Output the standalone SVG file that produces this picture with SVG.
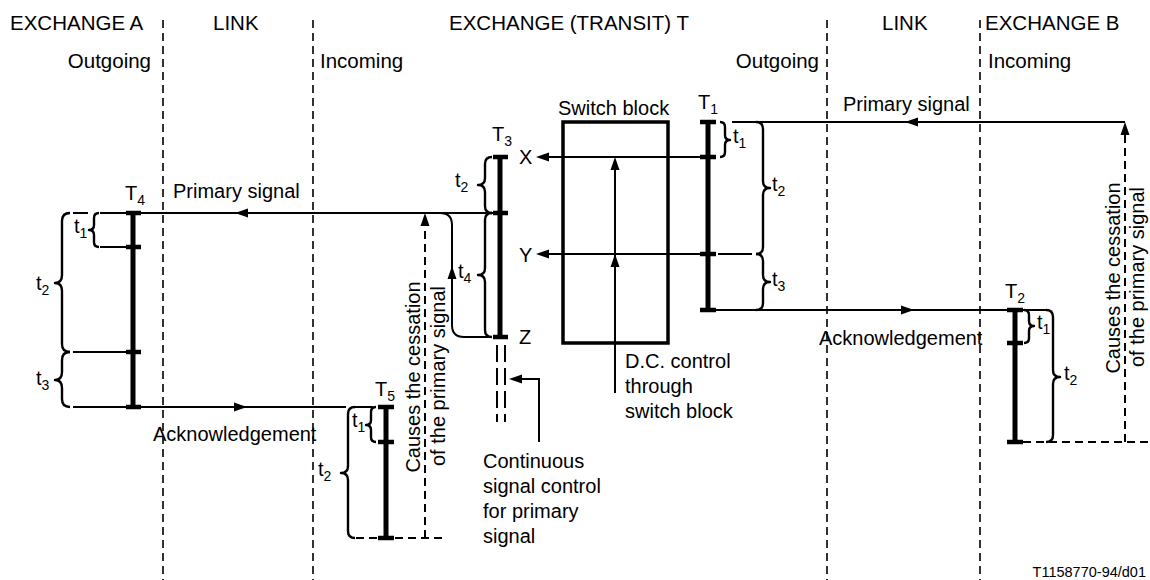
<svg xmlns="http://www.w3.org/2000/svg" xmlns:xlink="http://www.w3.org/1999/xlink" width="1150" height="580" viewBox="0 0 1150 580">
<style>
.t{font-family:"Liberation Sans",Arial,Helvetica,sans-serif;font-size:20px;fill:#000}
.h{font-size:20.5px}
.s{font-size:14px}
.ft{font-size:14.5px}
.bar{stroke:#000;stroke-width:5;fill:none}
.tk{stroke:#000;stroke-width:4.5;fill:none}
.ln{stroke:#000;stroke-width:2;fill:none}
.dl{stroke:#000;stroke-width:2;fill:none;stroke-dasharray:8 5}
.sep{stroke:#000;stroke-width:1.6;fill:none;stroke-dasharray:8 5}
.br{stroke:#000;stroke-width:2.4;fill:none;stroke-linejoin:round}
.box{stroke:#000;stroke-width:3.5;fill:none}
</style>
<defs>
<path id="ah" d="M0,0 L-13,-4.5 L-13,4.5 Z" fill="#000"/>
</defs>
<rect width="1150" height="580" fill="#fff"/>

<g id="separators">
<line class="sep" x1="163" y1="20" x2="163" y2="580"/>
<line class="sep" x1="313" y1="20" x2="313" y2="580"/>
<line class="sep" x1="827" y1="20" x2="827" y2="580"/>
<line class="sep" x1="980" y1="20" x2="980" y2="580"/>
</g>

<g id="headers" class="t h">
<text x="10" y="30">EXCHANGE A</text>
<text x="213" y="30">LINK</text>
<text x="449" y="30">EXCHANGE (TRANSIT) T</text>
<text x="882" y="30">LINK</text>
<text x="985" y="30">EXCHANGE B</text>
<text x="151" y="68" text-anchor="end">Outgoing</text>
<text x="320" y="68">Incoming</text>
<text x="819" y="68" text-anchor="end">Outgoing</text>
<text x="988" y="68">Incoming</text>
</g>

<g id="connectors">
<line class="ln" x1="500" y1="213" x2="140" y2="213"/>
<use xlink:href="#ah" transform="translate(235,213) rotate(180)"/>
<line class="ln" x1="73" y1="213" x2="88" y2="213"/>
<line class="ln" x1="100" y1="213" x2="127" y2="213"/>
<line class="ln" x1="100" y1="247" x2="127" y2="247"/>
<line class="ln" x1="73" y1="352" x2="127" y2="352"/>
<line class="ln" x1="73" y1="407" x2="346" y2="407"/>
<use xlink:href="#ah" transform="translate(247,407)"/>
<line class="ln" x1="353" y1="407" x2="373" y2="407"/>
<line class="dl" x1="356" y1="538" x2="445" y2="538"/>
<line class="dl" x1="425" y1="538" x2="425" y2="222"/>
<use xlink:href="#ah" transform="translate(425,213) rotate(-90)"/>
<path class="ln" d="M440,213 Q452,213 452,225 V325 Q452,337 464,337 H492"/>
<use xlink:href="#ah" transform="translate(452,266) rotate(-90)"/>
<line class="ln" x1="700" y1="157" x2="545" y2="157"/>
<use xlink:href="#ah" transform="translate(536,157) rotate(180)"/>
<line class="ln" x1="700" y1="254" x2="545" y2="254"/>
<use xlink:href="#ah" transform="translate(536,254) rotate(180)"/>
<line class="ln" x1="718" y1="254" x2="752" y2="254"/>
<line class="ln" x1="615" y1="393" x2="615" y2="165"/>
<use xlink:href="#ah" transform="translate(615,157) rotate(-90)"/>
<use xlink:href="#ah" transform="translate(615,254) rotate(-90)"/>
<line class="dl" x1="497" y1="345" x2="497" y2="422" style="stroke-dasharray:17 6"/>
<line class="dl" x1="505" y1="345" x2="505" y2="422" style="stroke-dasharray:17 6"/>
<polyline class="ln" points="539,442 539,379 518,379"/>
<use xlink:href="#ah" transform="translate(509,379) rotate(180)"/>
<line class="ln" x1="1125" y1="122" x2="732" y2="122"/>
<use xlink:href="#ah" transform="translate(905,122) rotate(180)"/>
<line class="ln" x1="716" y1="310" x2="1007" y2="310"/>
<use xlink:href="#ah" transform="translate(914,310)"/>
<line class="ln" x1="1023" y1="310" x2="1046" y2="310"/>
<line class="dl" x1="1023" y1="442" x2="1150" y2="442"/>
<line class="dl" x1="1125" y1="442" x2="1125" y2="132"/>
<use xlink:href="#ah" transform="translate(1125,122) rotate(-90)"/>
</g>

<g id="labels" class="t">
<text x="173" y="198">Primary signal</text>
<text x="153" y="441">Acknowledgement</text>
<text x="843" y="111">Primary signal</text>
<text x="819" y="345">Acknowledgement</text>
<text transform="translate(420,377) rotate(-90)" text-anchor="middle">Causes the cessation</text>
<text transform="translate(445,376) rotate(-90)" text-anchor="middle">of the primary signal</text>
<text transform="translate(1120,278) rotate(-90)" text-anchor="middle">Causes the cessation</text>
<text transform="translate(1144,277) rotate(-90)" text-anchor="middle">of the primary signal</text>
<text x="483" y="468">Continuous</text>
<text x="483" y="493">signal control</text>
<text x="483" y="518">for primary</text>
<text x="483" y="543">signal</text>
<text x="625" y="368">D.C. control</text>
<text x="625" y="393">through</text>
<text x="625" y="418">switch block</text>
<text x="1146" y="577" text-anchor="end" class="t ft">T1158770-94/d01</text>
</g>

<g id="switch-block">
<rect class="box" x="563" y="122" width="105" height="221"/>
<text class="t" x="558" y="115">Switch block</text>
<text class="t" x="519" y="164">X</text>
<text class="t" x="519" y="262">Y</text>
<text class="t" x="519" y="344">Z</text>
</g>

<g id="T4">
<line class="bar" x1="133" y1="213" x2="133" y2="407"/>
<line class="tk" x1="126" y1="213" x2="141" y2="213"/>
<line class="tk" x1="126" y1="247" x2="141" y2="247"/>
<line class="tk" x1="126" y1="352" x2="141" y2="352"/>
<line class="tk" x1="126" y1="407" x2="141" y2="407"/>
<text class="t" x="125" y="200">T<tspan class="s" dy="5">4</tspan></text>
<path class="br" d="M70,213 Q62,213 62,221 L62,275 Q62,283 55,283 Q62,283 62,291 L62,344 Q62,352 70,352"/>
<path class="br" d="M70,352 Q62,352 62,360 L62,372 Q62,380 55,380 Q62,380 62,388 L62,399 Q62,407 70,407"/>
<path class="br" d="M99,213 Q94,213 94,218 L94,225 Q94,230 89,230 Q94,230 94,235 L94,242 Q94,247 99,247"/>
<text class="t" x="36" y="290">t<tspan class="s" dy="5">2</tspan></text>
<text class="t" x="36" y="385">t<tspan class="s" dy="5">3</tspan></text>
<text class="t" x="74" y="233">t<tspan class="s" dy="5">1</tspan></text>
</g>

<g id="T3">
<line class="bar" x1="500" y1="157" x2="500" y2="337"/>
<line class="tk" x1="493" y1="157" x2="508" y2="157"/>
<line class="tk" x1="493" y1="213" x2="508" y2="213"/>
<line class="tk" x1="493" y1="337" x2="508" y2="337"/>
<text class="t" x="492" y="141">T<tspan class="s" dy="5">3</tspan></text>
<path class="br" d="M492,157 Q485,157 485,164 L485,178 Q485,185 478,185 Q485,185 485,192 L485,206 Q485,213 492,213"/>
<path class="br" d="M492,213 Q485,213 485,220 L485,268 Q485,275 478,275 Q485,275 485,282 L485,330 Q485,337 492,337"/>
<text class="t" x="455" y="187">t<tspan class="s" dy="5">2</tspan></text>
<text class="t" x="458" y="278">t<tspan class="s" dy="5">4</tspan></text>
</g>

<g id="T5">
<line class="bar" x1="386" y1="407" x2="386" y2="538"/>
<line class="tk" x1="378" y1="407" x2="394" y2="407"/>
<line class="tk" x1="378" y1="442" x2="394" y2="442"/>
<line class="tk" x1="378" y1="538" x2="394" y2="538"/>
<text class="t" x="375" y="396">T<tspan class="s" dy="5">5</tspan></text>
<path class="br" d="M355,407 Q348,407 348,414 L348,466 Q348,473 341,473 Q348,473 348,480 L348,531 Q348,538 355,538"/>
<path class="br" d="M376,407 Q371,407 371,412 L371,420 Q371,425 366,425 Q371,425 371,430 L371,437 Q371,442 376,442"/>
<text class="t" x="318" y="476">t<tspan class="s" dy="5">2</tspan></text>
<text class="t" x="352" y="427">t<tspan class="s" dy="5">1</tspan></text>
</g>

<g id="T1">
<line class="bar" x1="708" y1="122" x2="708" y2="310"/>
<line class="tk" x1="700" y1="122" x2="716" y2="122"/>
<line class="tk" x1="700" y1="157" x2="716" y2="157"/>
<line class="tk" x1="700" y1="254" x2="716" y2="254"/>
<line class="tk" x1="700" y1="310" x2="716" y2="310"/>
<text class="t" x="698" y="109">T<tspan class="s" dy="5">1</tspan></text>
<path class="br" d="M720,122 Q725,122 725,127 L725,135 Q725,140 730,140 Q725,140 725,145 L725,152 Q725,157 720,157"/>
<path class="br" d="M756,122 Q763,122 763,129 L763,181 Q763,188 770,188 Q763,188 763,195 L763,247 Q763,254 756,254"/>
<path class="br" d="M756,254 Q763,254 763,261 L763,275 Q763,282 770,282 Q763,282 763,289 L763,303 Q763,310 756,310"/>
<text class="t" x="733" y="143">t<tspan class="s" dy="5">1</tspan></text>
<text class="t" x="772" y="191">t<tspan class="s" dy="5">2</tspan></text>
<text class="t" x="772" y="286">t<tspan class="s" dy="5">3</tspan></text>
</g>

<g id="T2">
<line class="bar" x1="1015" y1="310" x2="1015" y2="442"/>
<line class="tk" x1="1007" y1="310" x2="1023" y2="310"/>
<line class="tk" x1="1007" y1="343" x2="1023" y2="343"/>
<line class="tk" x1="1007" y1="442" x2="1023" y2="442"/>
<text class="t" x="1005" y="298">T<tspan class="s" dy="5">2</tspan></text>
<path class="br" d="M1024,310 Q1029,310 1029,315 L1029,321 Q1029,326 1034,326 Q1029,326 1029,331 L1029,338 Q1029,343 1024,343"/>
<path class="br" d="M1046,310 Q1053,310 1053,317 L1053,370 Q1053,377 1060,377 Q1053,377 1053,384 L1053,435 Q1053,442 1046,442"/>
<text class="t" x="1037" y="329">t<tspan class="s" dy="5">1</tspan></text>
<text class="t" x="1064" y="380">t<tspan class="s" dy="5">2</tspan></text>
</g>
</svg>
